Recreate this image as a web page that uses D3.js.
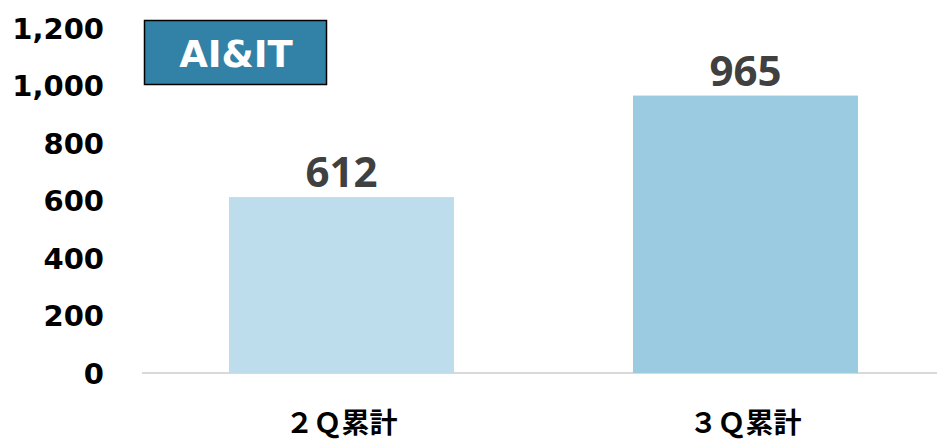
<!DOCTYPE html>
<html><head><meta charset="utf-8">
<script src="https://cdn.jsdelivr.net/npm/d3@7"></script>
<style>body{margin:0;background:#fff;} svg{display:block;}</style>
</head><body>
<svg id="chart" width="937" height="441"></svg>
<script>
const categories = ["２Ｑ累計", "３Ｑ累計"];
const values = [612, 965];
const barColors = ["#BDDDEC", "#9BCBE0"];
const yTicks = [0, 200, 400, 600, 800, 1000, 1200];
const title = "AI&IT";

const svg = d3.select("#chart");
const y = d3.scaleLinear().domain([0, 1200]).range([373, 28]);
const x = d3.scaleBand().domain(categories).range([139.5, 947.5]).paddingInner(0.443).paddingOuter(0.2215);

// axis line
svg.append("line").attr("x1", 142).attr("x2", 937).attr("y1", y(0)).attr("y2", y(0))
  .attr("stroke", "#d9d9d9").attr("stroke-width", 2);

// y axis labels
const yAxis = d3.axisLeft(y).tickValues(yTicks).tickSize(0).tickPadding(0)
  .tickFormat(d3.format(","));
const ga = svg.append("g").attr("transform", "translate(104,0)").call(yAxis);
ga.select(".domain").remove();
ga.selectAll("text").attr("font-family", "'DejaVu Sans', Verdana, sans-serif")
  .attr("font-weight", "bold").attr("font-size", 29).attr("fill", "#000")
  .attr("dy", "0.36em");

// bars
svg.selectAll("rect.bar").data(values).enter().append("rect").attr("class", "bar")
  .attr("x", (d, i) => x(categories[i])).attr("width", x.bandwidth())
  .attr("y", d => y(d)).attr("height", d => y(0) - y(d))
  .attr("fill", (d, i) => barColors[i]);

// value labels
svg.selectAll("text.val").data(values).enter().append("text").attr("class", "val")
  .attr("x", (d, i) => x(categories[i]) + x.bandwidth() / 2)
  .attr("y", d => y(d) - 10)
  .attr("text-anchor", "middle").attr("font-family", "'Open Sans', sans-serif")
  .attr("font-weight", "bold").attr("font-size", 42).attr("fill", "#404040")
  .text(d => d3.format(",")(d));

// x labels
const xAxis = d3.axisBottom(x).tickSize(0).tickPadding(0);
const gx = svg.append("g").attr("transform", "translate(0,433)").call(xAxis);
gx.select(".domain").remove();
gx.selectAll("text").attr("font-family", "'Noto Sans CJK JP', sans-serif")
  .attr("font-weight", "bold").attr("font-size", 28).attr("fill", "#000").attr("dy", 0);

// title box
svg.append("rect").attr("x", 144.5).attr("y", 20.5).attr("width", 182).attr("height", 64)
  .attr("fill", "#3182A6").attr("stroke", "#000").attr("stroke-width", 1.5);
svg.append("text").attr("x", 236).attr("y", 54).attr("dy", "0.36em")
  .attr("text-anchor", "middle").attr("font-family", "'DejaVu Sans', Verdana, sans-serif")
  .attr("font-weight", "bold").attr("font-size", 37).attr("fill", "#fff").text(title);
</script>
</body></html>
